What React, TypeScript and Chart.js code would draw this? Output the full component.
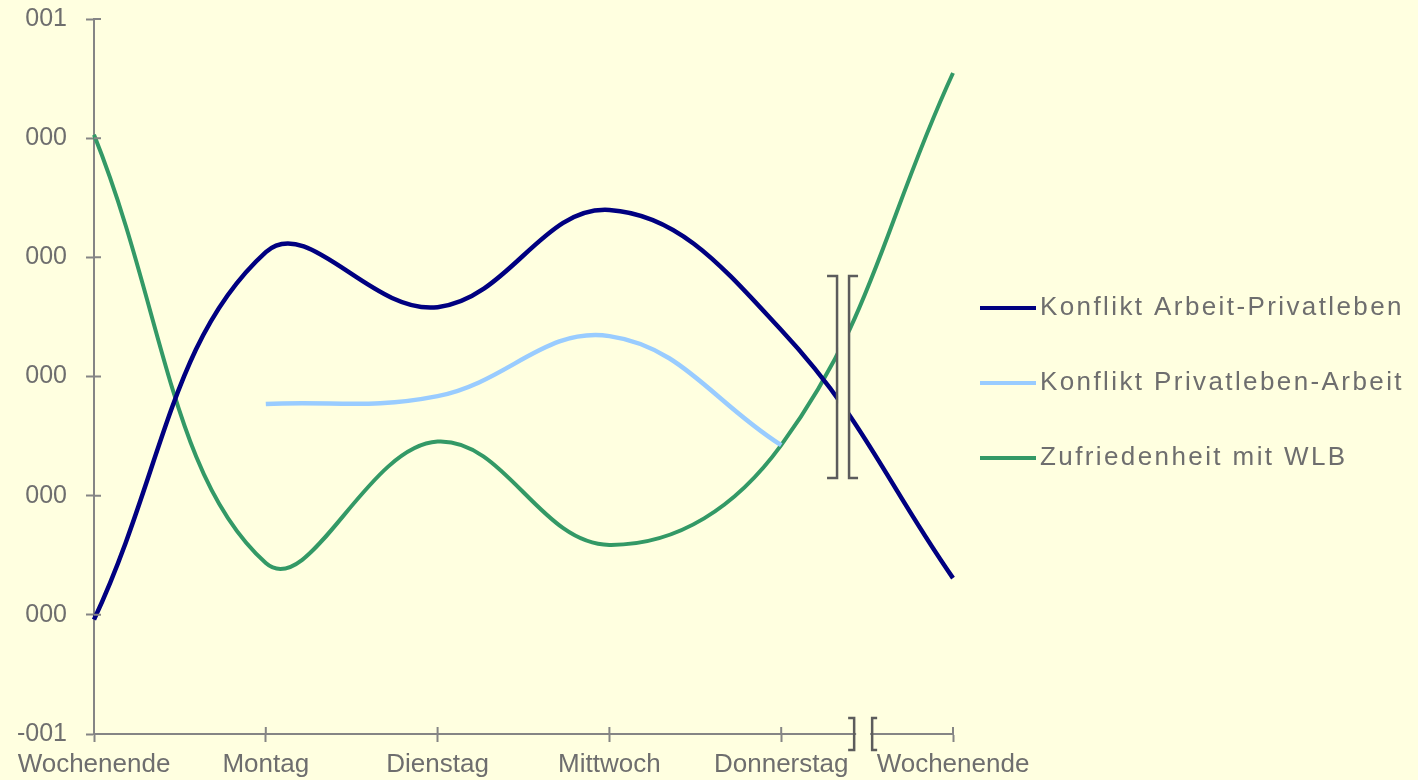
import React, { useEffect, useRef } from "react";
import { Chart, registerables } from "chart.js";

Chart.register(...registerables);

// ---- data ----
const categories = ["Wochenende", "Montag", "Dienstag", "Mittwoch", "Donnerstag", "Wochenende"];
const seriesNames = ["Konflikt Arbeit-Privatleben", "Konflikt Privatleben-Arbeit", "Zufriedenheit mit WLB"];
const arbeitPrivat = [-0.68, 0.348, 0.194, 0.466, 0.13, -0.564];
const privatArbeit = [null, -0.077, -0.055, 0.113, -0.192, null];
const zufriedenheit = [0.676, -0.522, -0.182, -0.471, -0.192, 0.849];
const yTickLabels = ["-001", "000", "000", "000", "000", "000", "001"];

// ---- style ----
const FONT = "'Liberation Sans', Arial, sans-serif";
const BG = "#FFFFE0";
const TEXT = "#6e6e6e";
const AXIS = "#858585";
const BRACKET = "#5c5c5c";
const COLORS = ["#000080", "#99CCFF", "#339966"];
const WIDTHS = [4.5, 4.5, 4];

// break decorations (fractions between Donnerstag and last Wochenende)
const X_BREAK_FRAC = 0.477;
const V_BREAK_FRAC = 0.36;
const V_BREAK_TOP = 0.281;
const V_BREAK_BOTTOM = -0.284;

const Y_AXIS_WIDTH = 94;
const X_AXIS_HEIGHT = 46;
const INNER_TICK = 7;
const LEGEND_GAP = 75;
const LEGEND_SHIFT = 6.5;

function bracket(ctx: CanvasRenderingContext2D, x: number, y1: number, y2: number, serif: number) {
  ctx.beginPath();
  ctx.moveTo(x + serif, y1);
  ctx.lineTo(x, y1);
  ctx.lineTo(x, y2);
  ctx.lineTo(x + serif, y2);
  ctx.stroke();
}

const decorPlugin = {
  id: "decor",
  beforeDraw(chart: any) {
    const { ctx, width, height } = chart;
    ctx.save();
    ctx.fillStyle = BG;
    ctx.fillRect(0, 0, width, height);
    ctx.restore();
  },
  afterDraw(chart: any) {
    const { ctx, chartArea: a, scales } = chart;
    const xs = scales.x;
    const ys = scales.y;
    ctx.save();
    // inner halves of the crossing tick marks
    ctx.strokeStyle = AXIS;
    ctx.lineWidth = 2;
    ctx.beginPath();
    ys.ticks.forEach((_: any, i: number) => {
      const y = ys.getPixelForTick(i);
      ctx.moveTo(a.left, y);
      ctx.lineTo(a.left + INNER_TICK, y);
    });
    xs.ticks.forEach((_: any, i: number) => {
      const x = xs.getPixelForTick(i);
      ctx.moveTo(x, a.bottom);
      ctx.lineTo(x, a.bottom - INNER_TICK);
    });
    ctx.stroke();

    const xA = xs.getPixelForValue(4);
    const xB = xs.getPixelForValue(5);

    // x-axis break
    const cx = xA + X_BREAK_FRAC * (xB - xA);
    ctx.fillStyle = BG;
    ctx.fillRect(cx - 7, a.bottom - 3, 14, 6);
    ctx.strokeStyle = BRACKET;
    ctx.lineWidth = 2.5;
    bracket(ctx, cx - 9, a.bottom - 16, a.bottom + 16, -6);
    bracket(ctx, cx + 9, a.bottom - 16, a.bottom + 16, 5);

    // vertical break over the lines
    const vx = xA + V_BREAK_FRAC * (xB - xA);
    const y1 = ys.getPixelForValue(V_BREAK_TOP);
    const y2 = ys.getPixelForValue(V_BREAK_BOTTOM);
    ctx.fillStyle = BG;
    ctx.fillRect(vx - 5, y1 - 2, 10, y2 - y1 + 4);
    bracket(ctx, vx - 6, y1, y2, -10);
    bracket(ctx, vx + 6, y1, y2, 9);

    // legend
    const n = chart.data.datasets.length;
    const cy = (a.top + a.bottom) / 2 + LEGEND_SHIFT;
    const x0 = a.right + 27;
    ctx.font = `26px ${FONT}`;
    (ctx as any).letterSpacing = "2.4px";
    ctx.textBaseline = "middle";
    ctx.textAlign = "left";
    chart.data.datasets.forEach((ds: any, i: number) => {
      const y = cy + (i - (n - 1) / 2) * LEGEND_GAP;
      ctx.strokeStyle = ds.borderColor;
      ctx.lineWidth = 4;
      ctx.lineCap = "butt";
      ctx.beginPath();
      ctx.moveTo(x0, y);
      ctx.lineTo(x0 + 56, y);
      ctx.stroke();
      ctx.fillStyle = TEXT;
      ctx.fillText(ds.label, x0 + 60, y);
    });
    ctx.restore();
  },
};

export default function App() {
  const ref = useRef<HTMLCanvasElement | null>(null);

  useEffect(() => {
    if (!ref.current) return;
    Chart.defaults.font.family = FONT;
    const values = [arbeitPrivat, privatArbeit, zufriedenheit];
    const chart = new Chart(ref.current, {
      type: "line",
      data: {
        labels: categories,
        datasets: seriesNames.map((name, i) => ({
          label: name,
          data: values[i] as any,
          borderColor: COLORS[i],
          backgroundColor: COLORS[i],
          borderWidth: WIDTHS[i],
          pointRadius: 0,
          pointHoverRadius: 0,
          tension: 0.4,
          fill: false,
          spanGaps: false,
        })),
      },
      options: {
        animation: false,
        responsive: true,
        maintainAspectRatio: false,
        layout: { padding: { top: 19, left: 0, right: 465, bottom: 0 } },
        plugins: {
          legend: { display: false },
          tooltip: { enabled: false },
        },
        scales: {
          x: {
            type: "category",
            offset: false,
            grid: {
              display: true,
              drawOnChartArea: false,
              drawTicks: true,
              tickLength: 8,
              tickWidth: 2,
              tickColor: AXIS,
            },
            border: { display: true, color: AXIS, width: 2 },
            ticks: {
              color: TEXT,
              font: { size: 26 },
              padding: 7,
              maxRotation: 0,
              autoSkip: false,
            },
            afterFit: (s: any) => {
              s.height = X_AXIS_HEIGHT;
            },
          },
          y: {
            min: -1,
            max: 1,
            grid: {
              display: true,
              drawOnChartArea: false,
              drawTicks: true,
              tickLength: 8,
              tickWidth: 2,
              tickColor: AXIS,
            },
            border: { display: true, color: AXIS, width: 2 },
            ticks: {
              stepSize: 1 / 3,
              color: TEXT,
              font: { size: 25 },
              padding: 19,
              callback: (_v: any, i: number) => yTickLabels[i],
            },
            afterFit: (s: any) => {
              s.width = Y_AXIS_WIDTH;
              s.paddingTop = 0;
              s.paddingBottom = 0;
            },
          },
        },
      },
      plugins: [decorPlugin],
    });
    return () => chart.destroy();
  }, []);

  return (
    <div style={{ position: "absolute", left: 0, top: 0, width: 1418, height: 780, background: BG }}>
      <canvas ref={ref} style={{ display: "block" }} />
    </div>
  );
}
